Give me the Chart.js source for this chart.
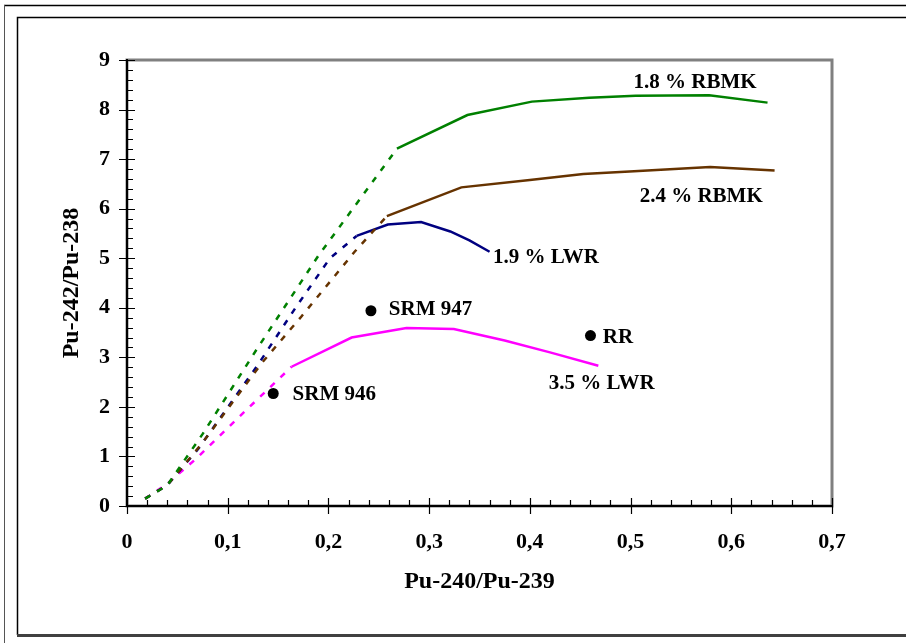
<!DOCTYPE html>
<html>
<head>
<meta charset="utf-8">
<title>Pu-242/Pu-238 vs Pu-240/Pu-239</title>
<script src="https://cdn.jsdelivr.net/npm/chart.js@4.4.1/dist/chart.umd.min.js"></script>
<style>
  html, body { margin: 0; padding: 0; background: #fff; }
  canvas { display: block; }
</style>
</head>
<body>
<canvas id="chart" width="906" height="643"></canvas>
<script>
// Curves: Pu-240/Pu-239 (x) against Pu-242/Pu-238 (y)
const rbmk18X = [0.018, 0.04, 0.075, 0.13, 0.19, 0.268, 0.338, 0.402, 0.459, 0.505, 0.578, 0.636];
const rbmk18Y = [0.15, 0.42, 1.45, 3.2, 5.05, 7.21, 7.89, 8.16, 8.24, 8.28, 8.29, 8.14];
const rbmk18Dashed = 5; // first segments are dashed

const rbmk24X = [0.018, 0.04, 0.074, 0.134, 0.173, 0.226, 0.258, 0.332, 0.40, 0.453, 0.499, 0.579, 0.643];
const rbmk24Y = [0.15, 0.42, 1.25, 2.89, 3.82, 5.13, 5.85, 6.43, 6.58, 6.70, 6.75, 6.84, 6.77];
const rbmk24Dashed = 6;

const lwr19X = [0.018, 0.04, 0.071, 0.13, 0.167, 0.2015, 0.228, 0.259, 0.292, 0.321, 0.340, 0.36];
const lwr19Y = [0.15, 0.42, 1.16, 2.85, 3.99, 5.0, 5.45, 5.68, 5.73, 5.54, 5.36, 5.13];
const lwr19Dashed = 6;

const lwr35X = [0.018, 0.04, 0.069, 0.117, 0.1634, 0.223, 0.2775, 0.3245, 0.375, 0.42, 0.468];
const lwr35Y = [0.15, 0.45, 0.96, 1.91, 2.81, 3.40, 3.59, 3.57, 3.34, 3.10, 2.83];
const lwr35Dashed = 4;

// Reference materials (black dots)
const sampleNames = ['SRM 946', 'SRM 947', 'RR'];
const sampleX = [0.1452, 0.2422, 0.4602];
const sampleY = [2.27, 3.94, 3.44];

// Text labels in the plot (data coordinates of their left/middle)
const noteText = ['1.8 % RBMK', '2.4 % RBMK', '1.9 % LWR', 'SRM 947', 'RR', '3.5 % LWR', 'SRM 946'];
const noteX = [0.503, 0.509, 0.3634, 0.260, 0.4724, 0.4188, 0.1644];
const noteY = [8.54, 6.25, 5.02, 3.96, 3.39, 2.47, 2.25];

const xMin = 0, xMax = 0.7, xStep = 0.1, xMinor = 0.02;
const yMin = 0, yMax = 9, yStep = 1, yMinor = 0.2;

const FONT = '"Liberation Serif", "Times New Roman", serif';

const toPoints = (xs, ys) => xs.map((x, i) => ({ x: x, y: ys[i] }));

const curve = (label, xs, ys, dashedUntil, color) => ({
  label: label,
  data: toPoints(xs, ys),
  showLine: true,
  borderColor: color,
  backgroundColor: color,
  borderWidth: 2.5,
  pointRadius: 0,
  pointHoverRadius: 0,
  tension: 0,
  segment: {
    borderDash: (ctx) => (ctx.p1DataIndex <= dashedUntil ? [6, 8] : undefined),
  },
});

// page frame and the grey plot-area box
const framePlugin = {
  id: 'frame',
  beforeDraw(chart) {
    const { ctx, chartArea } = chart;
    ctx.save();
    ctx.fillStyle = '#fff';
    ctx.fillRect(0, 0, chart.width, chart.height);

    ctx.strokeStyle = '#000';
    ctx.lineWidth = 1.5;
    ctx.beginPath();
    ctx.moveTo(4, 5.5);
    ctx.lineTo(chart.width, 5.5);
    ctx.stroke();
    ctx.lineWidth = 1;
    ctx.strokeStyle = '#555';
    ctx.beginPath();
    ctx.moveTo(4.5, 5);
    ctx.lineTo(4.5, chart.height);
    ctx.stroke();

    ctx.strokeStyle = '#000';
    ctx.lineWidth = 1.5;
    ctx.beginPath();
    ctx.moveTo(chart.width + 2, 17.5);
    ctx.lineTo(17.5, 17.5);
    ctx.lineTo(17.5, 635);
    ctx.stroke();
    ctx.strokeStyle = '#404040';
    ctx.lineWidth = 3;
    ctx.beginPath();
    ctx.moveTo(17, 635.5);
    ctx.lineTo(chart.width + 2, 635.5);
    ctx.stroke();

    ctx.strokeStyle = '#808080';
    ctx.lineWidth = 3;
    ctx.strokeRect(chartArea.left, chartArea.top, chartArea.right - chartArea.left, chartArea.bottom - chartArea.top);
    ctx.restore();
  },
};

// major ticks cross the axis, minor ticks point inward
const ticksPlugin = {
  id: 'crossTicks',
  afterDatasetsDraw(chart) {
    const { ctx } = chart;
    const xs = chart.scales.x;
    const ys = chart.scales.y;
    const x0 = xs.getPixelForValue(xMin);
    const y0 = ys.getPixelForValue(yMin);
    ctx.save();
    ctx.strokeStyle = '#000';
    ctx.lineWidth = 1.2;
    ctx.beginPath();
    const nx = Math.round((xMax - xMin) / xMinor);
    for (let i = 0; i <= nx; i++) {
      const px = Math.round(xs.getPixelForValue(xMin + i * xMinor)) + 0.5;
      const major = i % Math.round(xStep / xMinor) === 0;
      ctx.moveTo(px, major ? y0 - 8 : y0 - 6);
      ctx.lineTo(px, major ? y0 + 8 : y0);
    }
    const ny = Math.round((yMax - yMin) / yMinor);
    for (let i = 0; i <= ny; i++) {
      const py = Math.round(ys.getPixelForValue(yMin + i * yMinor)) + 0.5;
      const major = i % Math.round(yStep / yMinor) === 0;
      ctx.moveTo(major ? x0 - 8 : x0, py);
      ctx.lineTo(major ? x0 + 8 : x0 + 6, py);
    }
    ctx.stroke();
    ctx.restore();
  },
};

const notesPlugin = {
  id: 'notes',
  afterDatasetsDraw(chart) {
    const { ctx } = chart;
    const xs = chart.scales.x;
    const ys = chart.scales.y;
    ctx.save();
    ctx.fillStyle = '#000';
    ctx.font = 'bold 21px ' + FONT;
    ctx.textAlign = 'left';
    ctx.textBaseline = 'middle';
    noteText.forEach((t, i) => {
      ctx.fillText(t, xs.getPixelForValue(noteX[i]), ys.getPixelForValue(noteY[i]));
    });
    ctx.restore();
  },
};

const tickFont = { family: FONT, size: 22, weight: 'bold' };
const titleFont = { family: FONT, size: 24, weight: 'bold' };

new Chart(document.getElementById('chart'), {
  type: 'scatter',
  data: {
    datasets: [
      curve('1.8 % RBMK', rbmk18X, rbmk18Y, rbmk18Dashed, '#008000'),
      curve('2.4 % RBMK', rbmk24X, rbmk24Y, rbmk24Dashed, '#663300'),
      curve('1.9 % LWR', lwr19X, lwr19Y, lwr19Dashed, '#000080'),
      curve('3.5 % LWR', lwr35X, lwr35Y, lwr35Dashed, '#ff00ff'),
      {
        label: 'Samples',
        data: toPoints(sampleX, sampleY),
        showLine: false,
        pointRadius: 5.5,
        pointBackgroundColor: '#000',
        pointBorderColor: '#000',
        pointBorderWidth: 0,
      },
    ],
  },
  options: {
    responsive: false,
    animation: false,
    devicePixelRatio: 1,
    layout: { padding: { top: 60, right: 74, left: 0, bottom: 0 } },
    plugins: {
      legend: { display: false },
      tooltip: { enabled: false },
      title: { display: false },
    },
    scales: {
      x: {
        type: 'linear',
        min: xMin,
        max: xMax,
        afterFit: (s) => { s.height = 137; },
        ticks: {
          stepSize: xStep,
          color: '#000',
          font: tickFont,
          padding: 23,
          maxRotation: 0,
          callback: (v) => (v === 0 ? '0' : v.toFixed(1).replace('.', ',')),
        },
        grid: { display: true, drawOnChartArea: false, drawTicks: false, color: 'transparent' },
        border: { display: true, color: '#000', width: 2 },
        title: {
          display: true,
          text: 'Pu-240/Pu-239',
          color: '#000',
          font: titleFont,
          padding: { top: 0, bottom: 46.6 },
        },
      },
      y: {
        type: 'linear',
        min: yMin,
        max: yMax,
        afterFit: (s) => { s.width = 127; },
        ticks: {
          stepSize: yStep,
          color: '#000',
          font: tickFont,
          padding: 17,
        },
        grid: { display: true, drawOnChartArea: false, drawTicks: false, color: 'transparent' },
        border: { display: true, color: '#000', width: 2 },
        title: {
          display: true,
          text: 'Pu-242/Pu-238',
          color: '#000',
          font: titleFont,
          padding: { top: 57.6, bottom: 0 },
        },
      },
    },
  },
  plugins: [framePlugin, ticksPlugin, notesPlugin],
});
</script>
</body>
</html>
